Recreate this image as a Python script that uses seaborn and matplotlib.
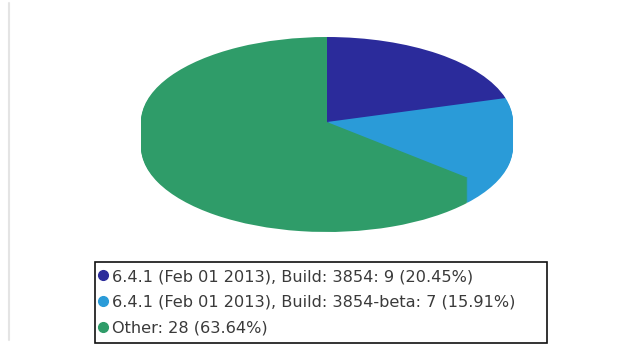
import numpy as np
import matplotlib
matplotlib.use("Agg")
import matplotlib.pyplot as plt
from matplotlib.lines import Line2D
from matplotlib.patches import Rectangle
import seaborn as sns

# Build share of reported installations
labels = [
    "6.4.1 (Feb 01 2013), Build: 3854",
    "6.4.1 (Feb 01 2013), Build: 3854-beta",
    "Other",
]
counts = [9, 7, 28]
colors = ["#2b2b9b", "#2a9bd8", "#2f9c69"]

sns.set_theme(style="white")
plt.rcParams["font.family"] = ["DejaVu Sans"]

W, H = 634, 356
fig = plt.figure(figsize=(W / 100, H / 100), dpi=100)
fig.patch.set_facecolor("white")

# Pie axes placed in pixel terms: x spans the ellipse, y includes the extrusion depth
left, right = 141, 513
top, bottom = 37, 232
ry_px = 85.0
depth = (bottom - top - 2 * ry_px) / ry_px
ax = fig.add_axes([left / W, (H - bottom) / H, (right - left) / W, (bottom - top) / H])

total = sum(counts)
pct = [100 * c / total for c in counts]

# Extruded side: stacked copies of the pie, then the top face
offsets = np.linspace(depth, 0, 26)
for off in offsets:
    wedges, _ = ax.pie(counts, colors=colors, startangle=90, counterclock=False,
                       center=(0, -off), radius=1,
                       wedgeprops=dict(linewidth=0, antialiased=True))
    for w in wedges:
        w.set_clip_on(False)
ax.set_aspect("auto")
ax.set_xlim(-1, 1)
ax.set_ylim(-1 - depth, 1)
ax.axis("off")

# Legend entries
handles = [Line2D([0], [0], marker="o", linestyle="none", markersize=7,
                  markerfacecolor=c, markeredgecolor=c) for c in colors]
legend_labels = [f"{l}: {c} ({p:.2f}%)" for l, c, p in zip(labels, counts, pct)]
leg = fig.legend(handles, legend_labels, loc="upper left",
                 bbox_to_anchor=(99 / W, (H - 269) / H),
                 frameon=False, fontsize=11.6, handlelength=0.5,
                 handletextpad=0.28, labelspacing=0.68, borderpad=0,
                 borderaxespad=0)
for t in leg.get_texts():
    t.set_color("#3a3a3a")

# Legend frame
fig.add_artist(Rectangle((95 / W, (H - 343) / H), (547 - 95) / W, (343 - 262) / H,
                         transform=fig.transFigure, fill=False,
                         edgecolor="#111111", linewidth=1.2))

# Thin page rule at the left
fig.add_artist(Line2D([9 / W, 9 / W], [(H - 340) / H, (H - 3) / H],
                      transform=fig.transFigure, color="#e4e4e4", linewidth=1.5))

fig.savefig("out.png", dpi=100)
